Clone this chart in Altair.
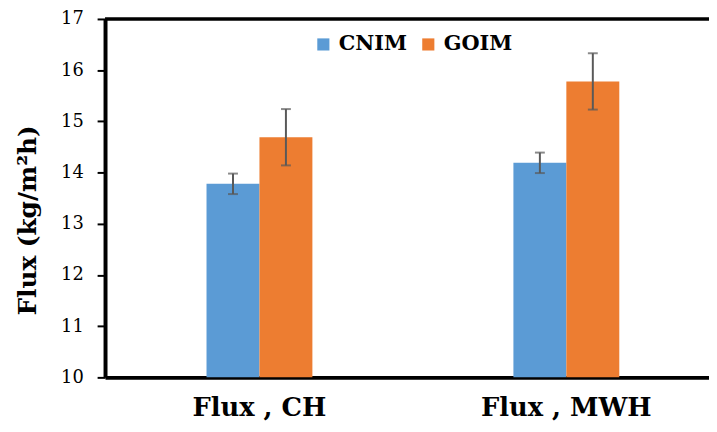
import altair as alt
import pandas as pd

groups = ["Flux , CH", "Flux , MWH"]
series = ["CNIM", "GOIM"]
cnim_values = [13.78, 14.19]
goim_values = [14.69, 15.78]
cnim_errors = [0.20, 0.20]
goim_errors = [0.55, 0.55]
y_ticks = [10, 11, 12, 13, 14, 15, 16, 17]
colors = ["#5B9BD5", "#ED7D31"]

rows = []
for s, vals, errs in [("CNIM", cnim_values, cnim_errors), ("GOIM", goim_values, goim_errors)]:
    for g, v, e in zip(groups, vals, errs):
        rows.append({"group": g, "series": s, "value": v, "lo": v - e, "hi": v + e})
df = pd.DataFrame(rows)

W = 610
H = 362
FONT = "DejaVu Serif"

x_scale = alt.Scale(paddingInner=0.31, paddingOuter=0.139, align=0.569)
x_enc = alt.X("group:N", sort=groups, scale=x_scale,
              axis=alt.Axis(title=None, labelAngle=0, ticks=False, domain=True,
                            domainColor="black", domainWidth=4, labelLimit=0,
                            labelFont=FONT, labelFontSize=26, labelFontWeight="bold",
                            labelColor="black", labelPadding=18))
xoff_scale = alt.Scale(paddingInner=0, paddingOuter=1)
xoff = alt.XOffset("series:N", sort=series, scale=xoff_scale)
y_scale = alt.Scale(domain=[10, 17], nice=False, zero=False)

base = alt.Chart(df)

bars = base.mark_bar().encode(
    x=x_enc,
    xOffset=xoff,
    y=alt.Y("value:Q", scale=y_scale,
            axis=alt.Axis(values=y_ticks, format="d", grid=False, tickSize=8, tickWidth=2,
                          tickColor="black", domainColor="black", domainWidth=4,
                          labelFont=FONT, labelFontSize=18, labelColor="black",
                          labelPadding=14,
                          title="Flux (kg/m²h)", titleFont=FONT, titleFontSize=25,
                          titleFontWeight="bold", titleColor="black",
                          titleX=-78, titleY=203, titleAngle=270,
                          titleBaseline="middle", titleAlign="center")),
    y2=alt.datum(10),
    color=alt.Color("series:N", scale=alt.Scale(domain=series, range=colors),
                    legend=alt.Legend(title=None, orient="none", legendX=210, legendY=15,
                                      direction="horizontal", symbolType="square",
                                      symbolSize=150, symbolStrokeWidth=0,
                                      labelFont=FONT, labelFontSize=21,
                                      labelFontWeight="bold", labelColor="black",
                                      columnPadding=11, labelOffset=5)),
)

xg = alt.X("group:N", sort=groups, scale=x_scale)
xo = alt.XOffset("series:N", sort=series, scale=xoff_scale)

err = base.mark_rule(color="#595959", strokeWidth=2).encode(
    x=xg, xOffset=xo, y="lo:Q", y2="hi:Q")
cap_lo = base.mark_tick(color="#595959", thickness=2, size=10, orient="horizontal").encode(
    x=xg, xOffset=xo, y="lo:Q")
cap_hi = base.mark_tick(color="#595959", thickness=2, size=10, orient="horizontal").encode(
    x=xg, xOffset=xo, y="hi:Q")

top_line = alt.Chart(pd.DataFrame({"top": [17]})).mark_rule(color="black", strokeWidth=3.5).encode(
    y=alt.Y("top:Q", scale=y_scale), x=alt.value(0), x2=alt.value(W))

chart = alt.layer(bars, err, cap_lo, cap_hi, top_line).properties(
    width=W, height=H,
    autosize=alt.AutoSizeParams(type="none"),
    padding={"left": 98, "top": 9, "right": 0, "bottom": 42},
).configure_view(stroke=None).configure(background="white")

chart.save("out.html", embed_options={"renderer": "svg", "actions": False})
